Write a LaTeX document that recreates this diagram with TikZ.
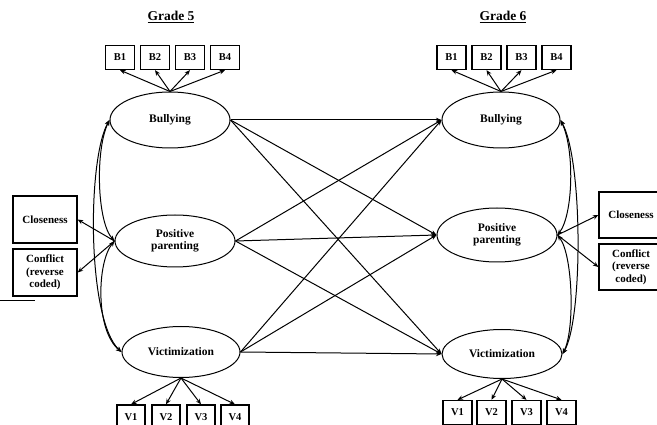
\documentclass[tikz,border=0pt]{standalone}
\usepackage{fontspec}
\setmainfont{Liberation Serif}
\usetikzlibrary{arrows.meta, shapes.geometric}
\begin{document}
\begin{tikzpicture}[
        x=1pt, y=-1pt,
        >={Stealth[length=5.5pt,width=4.5pt]},
        every path/.style={line width=1pt},
        latent/.style={draw, ellipse, inner sep=0pt, align=center,
            font=\fontsize{11.5}{12.5}\selectfont\bfseries},
        obs/.style={draw, line width=1.3pt, inner sep=0pt, minimum width=29pt, minimum height=24pt,
            font=\fontsize{10.5}{11}\selectfont\bfseries},
        ind/.style={draw, line width=1.3pt, inner sep=0pt, align=center, minimum width=64pt,
            minimum height=47pt, font=\fontsize{11}{12.5}\selectfont\bfseries},
        title/.style={font=\fontsize{13.5}{15}\selectfont\bfseries}
    ]
    \useasboundingbox (0,0) rectangle (657,425);
    % titles
    \node[title] (g5) at (171,17) {\underline{Grade 5}};
    \node[title] (g6) at (503,17) {\underline{Grade 6}};
    % latent variables
    \node[latent, minimum width=120pt, minimum height=56pt] (bulL) at (170,120) {Bullying};
    \node[latent, minimum width=120pt, minimum height=52pt] (ppL) at (175,241) {Positive\\parenting};
    \node[latent, minimum width=118pt, minimum height=51pt] (vicL) at (181,352) {Victimization};
    \node[latent, minimum width=118pt, minimum height=56pt] (bulR) at (501,120) {Bullying};
    \node[latent, minimum width=120pt, minimum height=54pt] (ppR) at (497,235) {Positive\\parenting};
    \node[latent, minimum width=120pt, minimum height=49pt] (vicR) at (502,354) {Victimization};
    % indicators
    \foreach \i/\x in {1/120,2/155,3/190,4/225}
        \node[obs] (bL\i) at (\x,57.5) {B\i};
    \foreach \i/\x in {1/451.5,2/486.5,3/521.5,4/556.5}
        \node[obs] (bR\i) at (\x,57.5) {B\i};
    \foreach \i/\x in {1/131,2/166,3/201,4/235}
        \node[obs, minimum width=28pt] (vL\i) at (\x,417) {V\i};
    \foreach \i/\x in {1/457.5,2/491.5,3/526.5,4/561.5}
        \node[obs] (vR\i) at (\x,412.5) {V\i};
    \node[ind] (closeL) at (45,219.5) {Closeness};
    \node[ind] (conflL) at (45,272.5) {Conflict\\(reverse\\coded)};
    \node[ind, minimum height=46pt] (closeR) at (631,215) {Closeness};
    \node[ind, minimum height=46pt] (conflR) at (631,267) {Conflict\\(reverse\\coded)};
    % loadings
    \foreach \i in {1,...,4} {
        \draw[->] (bulL.north) -- (bL\i.south);
        \draw[->] (bulR.north) -- (bR\i.south);
        \draw[->] (vicL.south) -- (vL\i.north);
        \draw[->] (vicR.south) -- (vR\i.north);
    }
    \draw[->] (ppL.west) -- (closeL.east);
    \draw[->] (ppL.west) -- (conflL.east);
    \draw[->] (ppR.east) -- (closeR.west);
    \draw[->] (ppR.east) -- (conflR.west);
    % cross-lagged paths
    \foreach \a in {bulL,ppL,vicL}
        \foreach \b in {bulR,ppR,vicR}
            \draw[->] (\a.east) -- (\b.west);
    % covariances
    \draw[<->] (bulL.west) .. controls (87,160) and (87,320) .. (vicL.west);
    \draw[<->] (bulL.west) .. controls (95,150) and (97,222) .. (ppL.west);
    \draw[<->] (ppL.west) .. controls (97,262) and (95,330) .. (vicL.west);
    \draw[<->] (bulR.east) .. controls (583,160) and (583,320) .. (vicR.east);
    \draw[<->] (bulR.east) .. controls (575,150) and (573,215) .. (ppR.east);
    \draw[<->] (ppR.east) .. controls (573,255) and (575,330) .. (vicR.east);
    % stray mark
    \draw (0,301) -- (35,301);
\end{tikzpicture}
\end{document}
